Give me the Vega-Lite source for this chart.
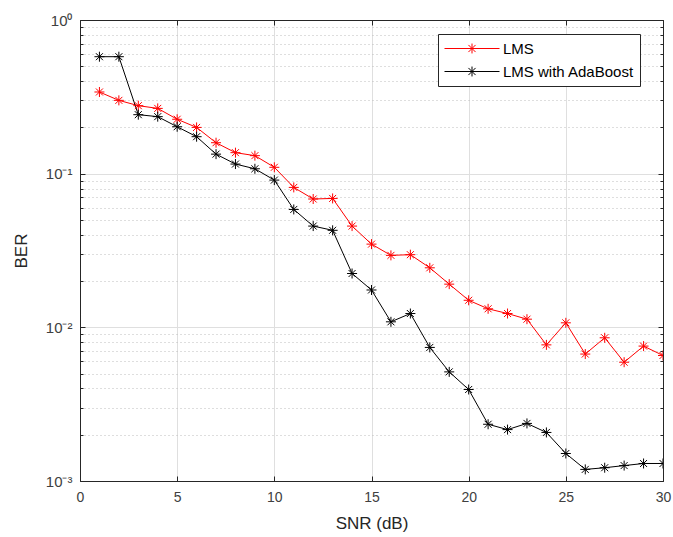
{
  "$schema": "https://vega.github.io/schema/vega-lite/v6.json",
  "width": 583,
  "height": 461,
  "autosize": "none",
  "padding": {"left": 80, "top": 20, "right": 10, "bottom": 56},
  "background": "white",
  "config": {
    "font": "Liberation Sans",
    "view": {"stroke": "#262626", "strokeWidth": 1}
  },
  "datasets": {
    "ber": [
      {"snr": 1, "ber": 0.34, "method": "LMS"},
      {"snr": 2, "ber": 0.30, "method": "LMS"},
      {"snr": 3, "ber": 0.277, "method": "LMS"},
      {"snr": 4, "ber": 0.266, "method": "LMS"},
      {"snr": 5, "ber": 0.226, "method": "LMS"},
      {"snr": 6, "ber": 0.20, "method": "LMS"},
      {"snr": 7, "ber": 0.159, "method": "LMS"},
      {"snr": 8, "ber": 0.137, "method": "LMS"},
      {"snr": 9, "ber": 0.131, "method": "LMS"},
      {"snr": 10, "ber": 0.11, "method": "LMS"},
      {"snr": 11, "ber": 0.0814, "method": "LMS"},
      {"snr": 12, "ber": 0.0684, "method": "LMS"},
      {"snr": 13, "ber": 0.069, "method": "LMS"},
      {"snr": 14, "ber": 0.0456, "method": "LMS"},
      {"snr": 15, "ber": 0.0348, "method": "LMS"},
      {"snr": 16, "ber": 0.0294, "method": "LMS"},
      {"snr": 17, "ber": 0.0297, "method": "LMS"},
      {"snr": 18, "ber": 0.0244, "method": "LMS"},
      {"snr": 19, "ber": 0.0191, "method": "LMS"},
      {"snr": 20, "ber": 0.015, "method": "LMS"},
      {"snr": 21, "ber": 0.0132, "method": "LMS"},
      {"snr": 22, "ber": 0.0123, "method": "LMS"},
      {"snr": 23, "ber": 0.0113, "method": "LMS"},
      {"snr": 24, "ber": 0.00769, "method": "LMS"},
      {"snr": 25, "ber": 0.0107, "method": "LMS"},
      {"snr": 26, "ber": 0.0067, "method": "LMS"},
      {"snr": 27, "ber": 0.00855, "method": "LMS"},
      {"snr": 28, "ber": 0.00593, "method": "LMS"},
      {"snr": 29, "ber": 0.00755, "method": "LMS"},
      {"snr": 30, "ber": 0.00656, "method": "LMS"},
      {"snr": 1, "ber": 0.577, "method": "LMS with AdaBoost"},
      {"snr": 2, "ber": 0.577, "method": "LMS with AdaBoost"},
      {"snr": 3, "ber": 0.242, "method": "LMS with AdaBoost"},
      {"snr": 4, "ber": 0.235, "method": "LMS with AdaBoost"},
      {"snr": 5, "ber": 0.202, "method": "LMS with AdaBoost"},
      {"snr": 6, "ber": 0.174, "method": "LMS with AdaBoost"},
      {"snr": 7, "ber": 0.134, "method": "LMS with AdaBoost"},
      {"snr": 8, "ber": 0.1155, "method": "LMS with AdaBoost"},
      {"snr": 9, "ber": 0.1076, "method": "LMS with AdaBoost"},
      {"snr": 10, "ber": 0.0908, "method": "LMS with AdaBoost"},
      {"snr": 11, "ber": 0.0585, "method": "LMS with AdaBoost"},
      {"snr": 12, "ber": 0.0456, "method": "LMS with AdaBoost"},
      {"snr": 13, "ber": 0.0428, "method": "LMS with AdaBoost"},
      {"snr": 14, "ber": 0.0224, "method": "LMS with AdaBoost"},
      {"snr": 15, "ber": 0.0175, "method": "LMS with AdaBoost"},
      {"snr": 16, "ber": 0.01086, "method": "LMS with AdaBoost"},
      {"snr": 17, "ber": 0.0123, "method": "LMS with AdaBoost"},
      {"snr": 18, "ber": 0.0074, "method": "LMS with AdaBoost"},
      {"snr": 19, "ber": 0.00513, "method": "LMS with AdaBoost"},
      {"snr": 20, "ber": 0.00394, "method": "LMS with AdaBoost"},
      {"snr": 21, "ber": 0.00234, "method": "LMS with AdaBoost"},
      {"snr": 22, "ber": 0.00216, "method": "LMS with AdaBoost"},
      {"snr": 23, "ber": 0.00237, "method": "LMS with AdaBoost"},
      {"snr": 24, "ber": 0.00207, "method": "LMS with AdaBoost"},
      {"snr": 25, "ber": 0.00151, "method": "LMS with AdaBoost"},
      {"snr": 26, "ber": 0.00119, "method": "LMS with AdaBoost"},
      {"snr": 27, "ber": 0.00122, "method": "LMS with AdaBoost"},
      {"snr": 28, "ber": 0.00126, "method": "LMS with AdaBoost"},
      {"snr": 29, "ber": 0.0013, "method": "LMS with AdaBoost"},
      {"snr": 30, "ber": 0.0013, "method": "LMS with AdaBoost"}
    ]
  },
  "data": {"name": "ber"},
  "layer": [
    {
      "mark": {"type": "line", "strokeWidth": 1, "clip": true},
      "encoding": {
        "x": {
          "field": "snr", "type": "quantitative",
          "scale": {"domain": [0, 30], "nice": false, "zero": false},
          "axis": {
            "orient": "bottom",
            "values": [0, 5, 10, 15, 20, 25, 30],
            "grid": true, "gridColor": "#dfdfdf", "gridWidth": 1,
            "domainColor": "#262626", "tickColor": "#262626",
            "tickSize": -5, "labelPadding": 14,
            "labelFontSize": 14, "labelColor": "#404040", "labelFlush": false, "labelOverlap": false,
            "title": "SNR (dB)", "titleFontSize": 17, "titleFontWeight": "normal", "titleColor": "#262626", "titlePadding": 11
          }
        },
        "y": {
          "field": "ber", "type": "quantitative",
          "scale": {"type": "log", "domain": [0.001, 1], "nice": false},
          "axis": {
            "orient": "left",
            "values": [0.001, 0.002, 0.003, 0.004, 0.005, 0.006, 0.007, 0.008, 0.009, 0.01, 0.02, 0.03, 0.04, 0.05, 0.06, 0.07, 0.08, 0.09, 0.1, 0.2, 0.3, 0.4, 0.5, 0.6, 0.7, 0.8, 0.9, 1],
            "labelExpr": "datum.value === 1 ? '10⁰' : datum.value === 0.1 ? '10⁻¹' : datum.value === 0.01 ? '10⁻²' : datum.value === 0.001 ? '10⁻³' : ''",
            "grid": true,
            "gridColor": {"condition": {"test": "indexof([1, 0.1, 0.01, 0.001], datum.value) >= 0", "value": "#dfdfdf"}, "value": "#bdbdbd"},
            "gridDash": {"condition": {"test": "indexof([1, 0.1, 0.01, 0.001], datum.value) >= 0", "value": []}, "value": [1, 3]},
            "domainColor": "#262626", "tickColor": "#262626",
            "tickSize": {"condition": {"test": "indexof([1, 0.1, 0.01, 0.001], datum.value) >= 0", "value": -5}, "value": -3},
            "labelPadding": 13,
            "labelFontSize": 15, "labelColor": "#404040", "labelFlush": false, "labelOverlap": false,
            "title": "BER", "titleFontSize": 17, "titleFontWeight": "normal", "titleColor": "#262626", "titlePadding": 15
          }
        },
        "color": {
          "field": "method", "type": "nominal",
          "scale": {"domain": ["LMS", "LMS with AdaBoost"], "range": ["#ff0000", "#000000"]},
          "legend": {
            "orient": "none", "legendX": 358, "legendY": 14,
            "title": null,
            "fillColor": "white", "strokeColor": "#262626", "padding": 6,
            "symbolType": "M-1,0L1,0M0,-0.18L0,0.18M-0.13,-0.13L0.13,0.13M-0.13,0.13L0.13,-0.13",
            "symbolSize": 3025, "symbolStrokeWidth": 1, "symbolFillColor": "transparent",
            "clipHeight": 17,
            "labelFontSize": 15, "labelColor": "#000000", "labelOffset": 3, "labelLimit": 300,
            "rowPadding": 6
          }
        }
      }
    },
    {
      "mark": {"type": "point", "shape": "M-1,0L1,0M0,-1L0,1M-0.7,-0.7L0.7,0.7M-0.7,0.7L0.7,-0.7", "filled": false, "size": 100, "strokeWidth": 1, "opacity": 1, "clip": true},
      "encoding": {
        "x": {
          "field": "snr", "type": "quantitative",
          "scale": {"domain": [0, 30], "nice": false, "zero": false},
          "axis": {
            "orient": "top", "values": [0, 5, 10, 15, 20, 25, 30],
            "labels": false, "grid": false, "title": null,
            "domainColor": "#262626", "tickColor": "#262626", "tickSize": -5
          }
        },
        "y": {
          "field": "ber", "type": "quantitative",
          "scale": {"type": "log", "domain": [0.001, 1], "nice": false},
          "axis": {
            "orient": "right",
            "values": [0.001, 0.002, 0.003, 0.004, 0.005, 0.006, 0.007, 0.008, 0.009, 0.01, 0.02, 0.03, 0.04, 0.05, 0.06, 0.07, 0.08, 0.09, 0.1, 0.2, 0.3, 0.4, 0.5, 0.6, 0.7, 0.8, 0.9, 1],
            "labels": false, "grid": false, "title": null,
            "domainColor": "#262626", "tickColor": "#262626",
            "tickSize": {"condition": {"test": "indexof([1, 0.1, 0.01, 0.001], datum.value) >= 0", "value": -5}, "value": -3}
          }
        },
        "color": {"field": "method", "type": "nominal"}
      }
    }
  ],
  "resolve": {"axis": {"x": "independent", "y": "independent"}}
}
